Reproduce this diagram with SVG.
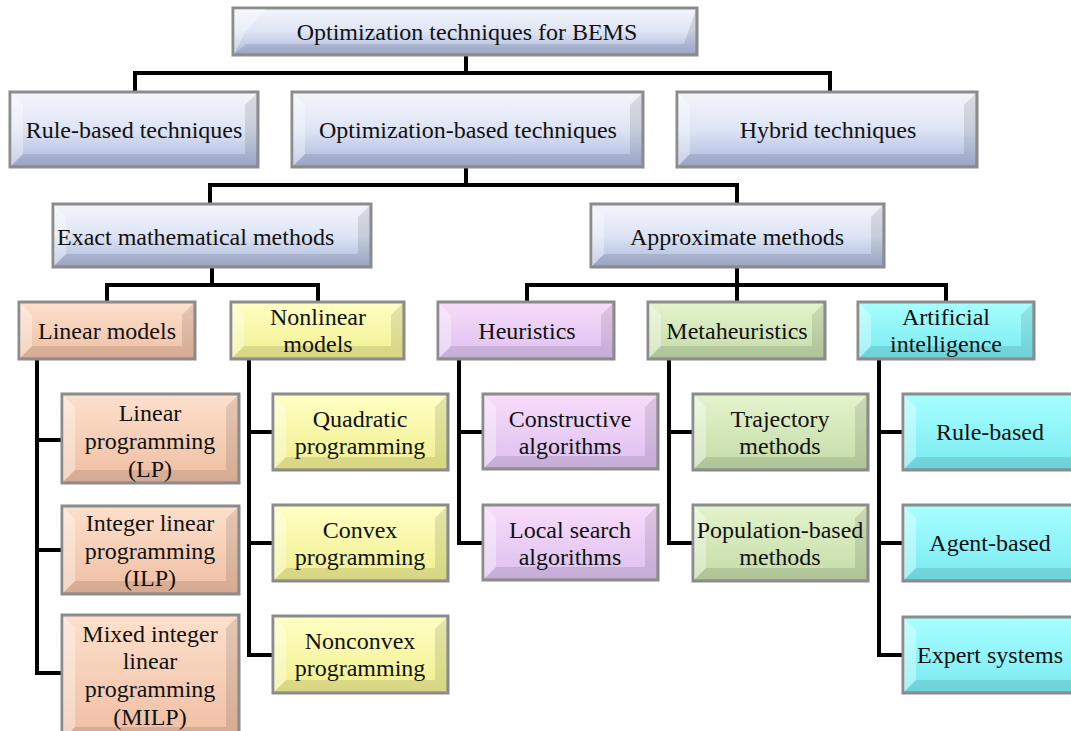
<svg xmlns="http://www.w3.org/2000/svg" width="1071" height="731" viewBox="0 0 1071 731">
<defs>
<linearGradient id="gBlue" x1="0" y1="0" x2="0" y2="1"><stop offset="0" stop-color="#f4f6fc"/><stop offset="0.5" stop-color="#dde4f4"/><stop offset="1" stop-color="#aab7dc"/></linearGradient>
<linearGradient id="gSal" x1="0" y1="0" x2="0" y2="1"><stop offset="0" stop-color="#fde0cc"/><stop offset="1" stop-color="#efbea2"/></linearGradient>
<linearGradient id="gYel" x1="0" y1="0" x2="0" y2="1"><stop offset="0" stop-color="#ffffc4"/><stop offset="1" stop-color="#f0ef8e"/></linearGradient>
<linearGradient id="gPur" x1="0" y1="0" x2="0" y2="1"><stop offset="0" stop-color="#f9dcfa"/><stop offset="1" stop-color="#dcc0f0"/></linearGradient>
<linearGradient id="gGrn" x1="0" y1="0" x2="0" y2="1"><stop offset="0" stop-color="#e4f4cc"/><stop offset="1" stop-color="#c4daa8"/></linearGradient>
<linearGradient id="gCyn" x1="0" y1="0" x2="0" y2="1"><stop offset="0" stop-color="#a8ffff"/><stop offset="1" stop-color="#78eaf2"/></linearGradient>
</defs>
<style>
.b{stroke:#8c8c8c;stroke-width:3}
.hl{fill:#ffffff;opacity:0.35}
.sh{fill:#000000;opacity:0.10}
text{font-family:"Liberation Serif","Times New Roman",serif;font-size:24px;fill:#111;text-anchor:middle}
.c{fill:none;stroke:#000;stroke-width:4;stroke-linejoin:miter}
</style>
<g id="connectors">
<path class="c" d="M466,55 V73 M135,92 V73 H830 V92 M466,167 V185 M210,204 V185 H737 V204 M212,267 V285 M107,302 V285 H318 V302 M737,267 V285 M527,302 V285 H946 V302 M737,285 V302"/>
<path class="c" d="M37,359 V673 H62 M37,440 H62 M37,550 H62"/>
<path class="c" d="M249,359 V655 H273 M249,432 H273 M249,543 H273"/>
<path class="c" d="M459,359 V543 H483 M459,432 H483"/>
<path class="c" d="M669,359 V543 H693 M669,432 H693"/>
<path class="c" d="M879,359 V655 H903 M879,432 H903 M879,543 H903"/>
</g>
<g id="n-root"><rect class="b" x="233" y="8" width="464" height="47" fill="url(#gBlue)"/><path class="hl" d="M234,9 L266,9 L246,31 L234,54 Z"/><path class="sh" d="M696,9 L696,54 L234,54 L246,44 L684,44 Z"/><text x="467" y="40">Optimization techniques for BEMS</text></g>
<g id="n-rule"><rect class="b" x="10" y="92" width="248" height="75" fill="url(#gBlue)"/><path class="hl" d="M11,93 L23,105 L23,154 L11,166 Z"/><path class="sh" d="M257,93 L257,166 L11,166 L23,154 L245,154 L245,105 Z"/><text x="134" y="138">Rule-based techniques</text></g>
<g id="n-opt"><rect class="b" x="292" y="92" width="351" height="75" fill="url(#gBlue)"/><path class="hl" d="M293,93 L305,105 L305,154 L293,166 Z"/><path class="sh" d="M642,93 L642,166 L293,166 L305,154 L630,154 L630,105 Z"/><text x="468" y="138">Optimization-based techniques</text></g>
<g id="n-hyb"><rect class="b" x="677" y="92" width="300" height="75" fill="url(#gBlue)"/><path class="hl" d="M678,93 L690,105 L690,154 L678,166 Z"/><path class="sh" d="M976,93 L976,166 L678,166 L690,154 L964,154 L964,105 Z"/><text x="828" y="138">Hybrid techniques</text></g>
<g id="n-exact"><rect class="b" x="53" y="204" width="318" height="63" fill="url(#gBlue)"/><path class="hl" d="M54,205 L66,217 L66,254 L54,266 Z"/><path class="sh" d="M370,205 L370,266 L54,266 L66,254 L358,254 L358,217 Z"/><text x="57" y="245" style="text-anchor:start">Exact mathematical methods</text></g>
<g id="n-approx"><rect class="b" x="591" y="204" width="293" height="63" fill="url(#gBlue)"/><path class="hl" d="M592,205 L604,217 L604,254 L592,266 Z"/><path class="sh" d="M883,205 L883,266 L592,266 L604,254 L871,254 L871,217 Z"/><text x="737" y="245">Approximate methods</text></g>
<g id="n-lin"><rect class="b" x="19" y="302" width="176" height="57" fill="url(#gSal)"/><path class="hl" d="M20,303 L32,315 L32,346 L20,358 Z"/><path class="sh" d="M194,303 L194,358 L20,358 L32,346 L182,346 L182,315 Z"/><text x="107" y="339">Linear models</text></g>
<g id="n-nonlin"><rect class="b" x="231" y="302" width="173" height="57" fill="url(#gYel)"/><path class="hl" d="M232,303 L244,315 L244,346 L232,358 Z"/><path class="sh" d="M403,303 L403,358 L232,358 L244,346 L391,346 L391,315 Z"/><text x="318" y="325">Nonlinear</text><text x="318" y="352">models</text></g>
<g id="n-heur"><rect class="b" x="438" y="302" width="176" height="57" fill="url(#gPur)"/><path class="hl" d="M439,303 L451,315 L451,346 L439,358 Z"/><path class="sh" d="M613,303 L613,358 L439,358 L451,346 L601,346 L601,315 Z"/><text x="527" y="339">Heuristics</text></g>
<g id="n-meta"><rect class="b" x="648" y="302" width="177" height="57" fill="url(#gGrn)"/><path class="hl" d="M649,303 L661,315 L661,346 L649,358 Z"/><path class="sh" d="M824,303 L824,358 L649,358 L661,346 L812,346 L812,315 Z"/><text x="737" y="339">Metaheuristics</text></g>
<g id="n-ai"><rect class="b" x="858" y="302" width="176" height="57" fill="url(#gCyn)"/><path class="hl" d="M859,303 L871,315 L871,346 L859,358 Z"/><path class="sh" d="M1033,303 L1033,358 L859,358 L871,346 L1021,346 L1021,315 Z"/><text x="946" y="325">Artificial</text><text x="946" y="352">intelligence</text></g>
<g id="n-lp"><rect class="b" x="62" y="394" width="177" height="89" fill="url(#gSal)"/><path class="hl" d="M63,395 L75,407 L75,470 L63,482 Z"/><path class="sh" d="M238,395 L238,482 L63,482 L75,470 L226,470 L226,407 Z"/><text x="150" y="421">Linear</text><text x="150" y="449">programming</text><text x="150" y="477">(LP)</text></g>
<g id="n-ilp"><rect class="b" x="62" y="506" width="177" height="88" fill="url(#gSal)"/><path class="hl" d="M63,507 L75,519 L75,581 L63,593 Z"/><path class="sh" d="M238,507 L238,593 L63,593 L75,581 L226,581 L226,519 Z"/><text x="150" y="531">Integer linear</text><text x="150" y="559">programming</text><text x="150" y="586">(ILP)</text></g>
<g id="n-milp"><rect class="b" x="62" y="615" width="177" height="125" fill="url(#gSal)"/><path class="hl" d="M63,616 L75,628 L75,727 L63,739 Z"/><path class="sh" d="M238,616 L238,739 L63,739 L75,727 L226,727 L226,628 Z"/><text x="150" y="642">Mixed integer</text><text x="150" y="669">linear</text><text x="150" y="697">programming</text><text x="150" y="725">(MILP)</text></g>
<g id="n-quad"><rect class="b" x="273" y="394" width="175" height="76" fill="url(#gYel)"/><path class="hl" d="M274,395 L286,407 L286,457 L274,469 Z"/><path class="sh" d="M447,395 L447,469 L274,469 L286,457 L435,457 L435,407 Z"/><text x="360" y="427">Quadratic</text><text x="360" y="454">programming</text></g>
<g id="n-convex"><rect class="b" x="273" y="505" width="175" height="76" fill="url(#gYel)"/><path class="hl" d="M274,506 L286,518 L286,568 L274,580 Z"/><path class="sh" d="M447,506 L447,580 L274,580 L286,568 L435,568 L435,518 Z"/><text x="360" y="538">Convex</text><text x="360" y="565">programming</text></g>
<g id="n-nonconvex"><rect class="b" x="273" y="616" width="175" height="77" fill="url(#gYel)"/><path class="hl" d="M274,617 L286,629 L286,680 L274,692 Z"/><path class="sh" d="M447,617 L447,692 L274,692 L286,680 L435,680 L435,629 Z"/><text x="360" y="649">Nonconvex</text><text x="360" y="676">programming</text></g>
<g id="n-constr"><rect class="b" x="483" y="394" width="175" height="75" fill="url(#gPur)"/><path class="hl" d="M484,395 L496,407 L496,456 L484,468 Z"/><path class="sh" d="M657,395 L657,468 L484,468 L496,456 L645,456 L645,407 Z"/><text x="570" y="427">Constructive</text><text x="570" y="454">algorithms</text></g>
<g id="n-local"><rect class="b" x="483" y="505" width="175" height="75" fill="url(#gPur)"/><path class="hl" d="M484,506 L496,518 L496,567 L484,579 Z"/><path class="sh" d="M657,506 L657,579 L484,579 L496,567 L645,567 L645,518 Z"/><text x="570" y="538">Local search</text><text x="570" y="565">algorithms</text></g>
<g id="n-traj"><rect class="b" x="693" y="394" width="175" height="76" fill="url(#gGrn)"/><path class="hl" d="M694,395 L706,407 L706,457 L694,469 Z"/><path class="sh" d="M867,395 L867,469 L694,469 L706,457 L855,457 L855,407 Z"/><text x="780" y="427">Trajectory</text><text x="780" y="454">methods</text></g>
<g id="n-pop"><rect class="b" x="693" y="505" width="175" height="76" fill="url(#gGrn)"/><path class="hl" d="M694,506 L706,518 L706,568 L694,580 Z"/><path class="sh" d="M867,506 L867,580 L694,580 L706,568 L855,568 L855,518 Z"/><text x="780" y="538">Population-based</text><text x="780" y="565">methods</text></g>
<g id="n-rb"><rect class="b" x="903" y="394" width="180" height="76" fill="url(#gCyn)"/><path class="hl" d="M904,395 L916,407 L916,457 L904,469 Z"/><path class="sh" d="M1082,469 L904,469 L916,457 L1082,457 Z"/><text x="990" y="440">Rule-based</text></g>
<g id="n-agent"><rect class="b" x="903" y="505" width="180" height="76" fill="url(#gCyn)"/><path class="hl" d="M904,506 L916,518 L916,568 L904,580 Z"/><path class="sh" d="M1082,580 L904,580 L916,568 L1082,568 Z"/><text x="990" y="551">Agent-based</text></g>
<g id="n-expert"><rect class="b" x="903" y="617" width="180" height="76" fill="url(#gCyn)"/><path class="hl" d="M904,618 L916,630 L916,680 L904,692 Z"/><path class="sh" d="M1082,692 L904,692 L916,680 L1082,680 Z"/><text x="990" y="663">Expert systems</text></g>
</svg>
